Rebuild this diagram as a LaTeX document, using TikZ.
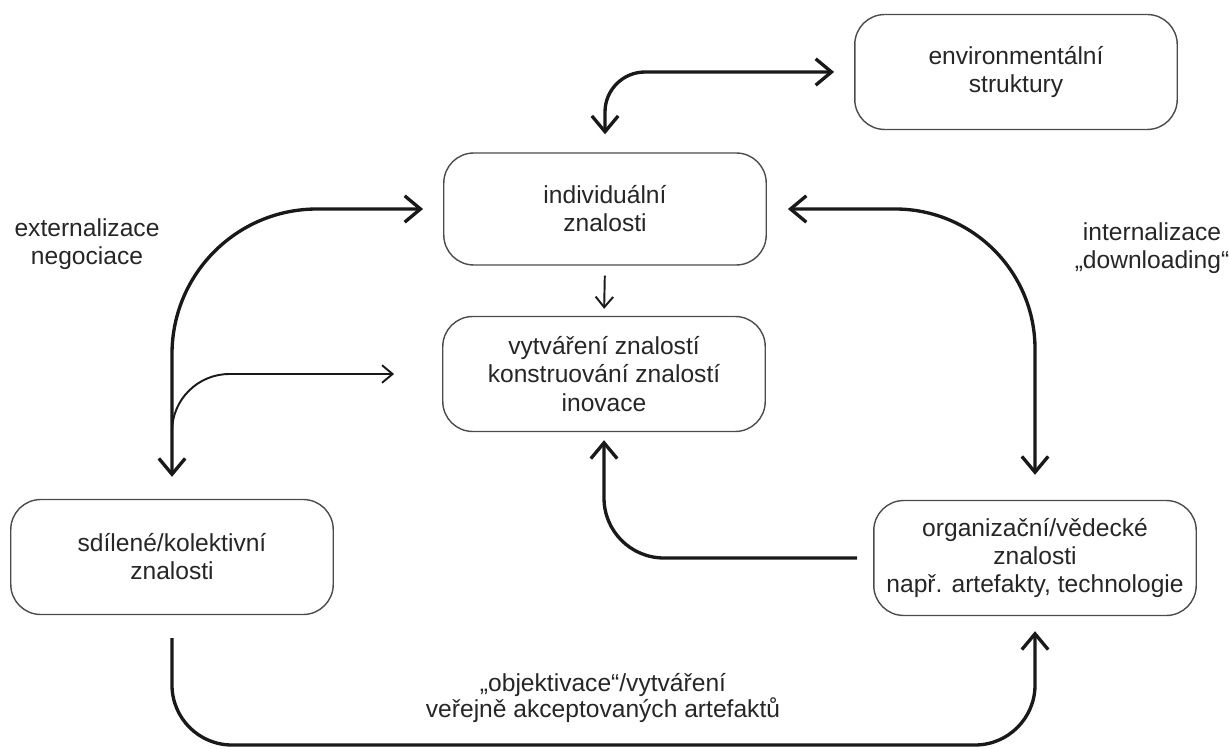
\documentclass[tikz,border=0pt]{standalone}
\usepackage{fontspec}
\setmainfont{Liberation Sans}
\usetikzlibrary{arrows.meta}

\begin{document}
\begin{tikzpicture}[x=0.02cm,y=-0.02cm,
		box/.style={draw=black!70,line width=0.8pt,rounded corners=0.6cm,minimum width=6.45cm,minimum height=2.3cm,align=center,text=black!85,font=\fontsize{14}{16}\selectfont},
		lbl/.style={align=center,text=black!85,font=\fontsize{14}{16}\selectfont},
		bigarrow/.style={draw=black!90,line width=1.9pt,-{Straight Barb[length=9pt,width=15pt]}},
		bothways/.style={draw=black!90,line width=1.9pt,{Straight Barb[length=9pt,width=15pt]}-{Straight Barb[length=9pt,width=15pt]}},
		smallarrow/.style={draw=black!90,line width=1.1pt,-{Straight Barb[length=6pt,width=10pt]}}]
	\useasboundingbox (0,0) rectangle (1229,749);
	\node[box] (env) at (1016,72) {environmentální\\struktury};
	\node[box,minimum height=2.24cm] (ind) at (605,209) {individuální\\znalosti};
	\node[box] (vyt) at (604,374) {vytváření znalostí\\konstruování znalostí\\inovace};
	\node[box] (sdi) at (172,557) {sdílené/kolektivní\\znalosti};
	\node[box] (org) at (1035,558) {organizační/vědecké\\znalosti\\např. artefakty, technologie};
	\node[lbl] (ext) at (87,244) {externalizace\\negociace};
	\node[lbl] (int) at (1152,248) {internalizace\\„downloading“};
	\node[lbl,font=\fontsize{14}{12.5}\selectfont] (obj) at (603,698) {„objektivace“/vytváření\\veřejně akceptovaných artefaktů};
	\coordinate (fork) at (172,432);
	\coordinate (low) at (600,745);
	\draw[bothways,rounded corners=0.8cm,shorten <=0.4cm,shorten >=0.36cm] (env.west) -| (ind.north);
	\draw[bothways,rounded corners=2.9cm,shorten <=0.4cm,shorten >=0.44cm] (ind.west) -| (sdi.north);
	\draw[bothways,rounded corners=2.8cm,shorten <=0.42cm,shorten >=0.5cm] (ind.east) -| (org.north);
	\draw[smallarrow,rounded corners=1.15cm,shorten >=0.96cm] (fork) |- (vyt.west);
	\draw[smallarrow,shorten <=0.2cm,shorten >=0.14cm] (ind.south) -- (vyt.north);
	\draw[bigarrow,rounded corners=1.2cm,shorten <=0.32cm,shorten >=0.16cm] (org.west) -| (vyt.south);
	\draw[bigarrow,rounded corners=1.2cm,shorten <=0.46cm,shorten >=0.3cm] (sdi.south) |- (low) -| (org.south);
\end{tikzpicture}
\end{document}
